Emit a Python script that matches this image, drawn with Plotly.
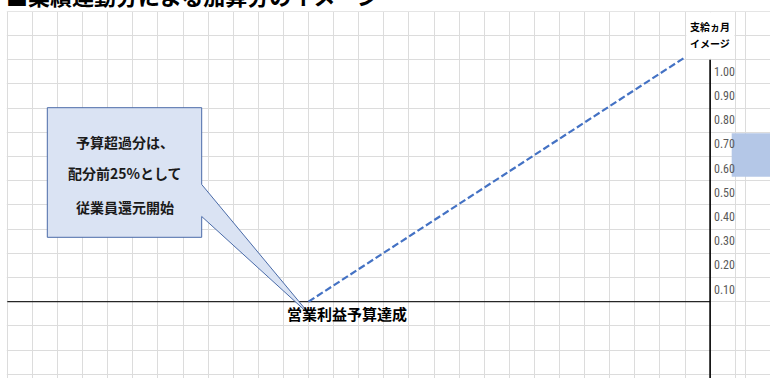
import plotly.graph_objects as go

# ---------------- data ----------------
title_text = "■業績連動分による加算分のイメージ"
axis_title_lines = ["支給ヵ月", "イメージ"]
month_values = [0.10, 0.20, 0.30, 0.40, 0.50, 0.60, 0.70, 0.80, 0.90, 1.00]
month_labels = ["0.10", "0.20", "0.30", "0.40", "0.50", "0.60", "0.70", "0.80", "0.90", "1.00"]
line_cols = [12, 27]          # column position: budget achieved -> end
line_months = [0.0, 1.01]     # payout months
callout_lines = ["予算超過分は、", "配分前25%として", "従業員還元開始"]
baseline_label = "営業利益予算達成"

# ---------------- geometry (sheet grid) ----------------
W, H = 770, 378
X0, DX = 7.3, 25.1      # first column line, column width (px)
Y0, DY = 301.7, 242.0   # zero line pixel, px per 1.0 month


def cx(p):
    return (p - X0) / DX


def my(p):
    return (Y0 - p) / DY


CJK = "Noto Sans CJK JP, Noto Sans, sans-serif"
NARROW = "Liberation Sans Narrow, Arial Narrow, Roboto Condensed, Roboto, sans-serif"

fig = go.Figure()

fig.add_trace(go.Scatter(
    x=line_cols, y=line_months, mode="lines",
    line=dict(color="#4472C4", width=2.2, dash="7px,3px"),
    hoverinfo="skip", showlegend=False,
))

xr = [cx(0), cx(W)]
yr = [my(H), my(0)]

shapes = []
# hide grid above first row and left of first column
shapes.append(dict(type="rect", xref="x", yref="y", x0=xr[0] - 1, x1=xr[1] + 1,
                   y0=my(11.2), y1=yr[1] + 1, fillcolor="white", line=dict(width=0), layer="between"))
shapes.append(dict(type="rect", xref="x", yref="y", x0=xr[0] - 1, x1=cx(6.8),
                   y0=yr[0] - 1, y1=yr[1] + 1, fillcolor="white", line=dict(width=0), layer="between"))
# merged header cell
shapes.append(dict(type="rect", xref="x", yref="y", x0=cx(686.3), x1=cx(734.5),
                   y0=my(58.8), y1=my(12.3), fillcolor="white", line=dict(width=0), layer="between"))
# blue highlighted cell at right
shapes.append(dict(type="rect", xref="x", yref="y", x0=cx(731.7), x1=cx(772),
                   y0=my(176.7), y1=my(133.3), fillcolor="#B4C7E7", line=dict(width=0), layer="between"))
# zero line
shapes.append(dict(type="line", xref="x", yref="y", x0=0, x1=28, y0=0, y1=0,
                   line=dict(color="#262626", width=1.3), layer="between"))
# vertical axis line
shapes.append(dict(type="line", xref="x", yref="y", x0=28, x1=28, y0=1.0, y1=yr[0] - 0.05,
                   line=dict(color="#000000", width=1.6), layer="between"))

# callout with wedge
L, R, T, B = 47.3, 201.7, 107.7, 237.3
wa, wb = 184.5, 216.5
tip = (311.0, 316.0)
pts = [(L, T), (R, T), (R, wa), tip, (R, wb), (R, B), (L, B)]
path = "M " + " L ".join(f"{cx(px):.4f},{my(py):.4f}" for px, py in pts) + " Z"
shapes.append(dict(type="path", xref="x", yref="y", path=path,
                   fillcolor="#DAE3F3", line=dict(color="#4A6BA8", width=1), layer="above"))

annotations = []
# title (cut off at top)
annotations.append(dict(text=f"<b>{title_text}</b>", xref="paper", yref="paper",
                        x=4 / W, y=1 + 5 / H, xanchor="left", yanchor="middle", showarrow=False,
                        font=dict(family=CJK, size=22, color="#000000")))
# axis header
for txt, py in zip(axis_title_lines, [26.0, 43.3]):
    annotations.append(dict(text=f"<b>{txt}</b>", xref="x", yref="y", x=cx(710), y=my(py),
                            xanchor="center", yanchor="middle", showarrow=False,
                            font=dict(family=CJK, size=10, color="#000000")))
# month labels
for v, lab in zip(month_values, month_labels):
    annotations.append(dict(text=lab, xref="x", yref="y", x=cx(711.5), y=v - 0.05,
                            xanchor="left", yanchor="middle", showarrow=False,
                            font=dict(family=NARROW, size=12, color="#595959")))
# callout text
for txt, py in zip(callout_lines, [141.7, 173.3, 206.7]):
    annotations.append(dict(text=f"<b>{txt}</b>", xref="x", yref="y", x=cx(124.5), y=my(py),
                            xanchor="center", yanchor="middle", showarrow=False,
                            font=dict(family=CJK, size=14, color="#1a1a1a")))
# baseline label
annotations.append(dict(text=f"<b>{baseline_label}</b>", xref="x", yref="y", x=cx(347.3), y=my(313.3),
                        xanchor="center", yanchor="middle", showarrow=False,
                        font=dict(family=CJK, size=15, color="#000000")))

fig.update_layout(
    width=W, height=H,
    margin=dict(l=0, r=0, t=0, b=0, pad=0),
    paper_bgcolor="white", plot_bgcolor="white",
    showlegend=False,
    xaxis=dict(range=xr, tickmode="array", tickvals=list(range(0, 30)) + [cx(745)],
               showgrid=True, gridcolor="#DCDCDC", gridwidth=1, showticklabels=False,
               zeroline=False, ticks="", showline=False, fixedrange=True),
    yaxis=dict(range=yr, tick0=0, dtick=0.1,
               showgrid=True, gridcolor="#DCDCDC", gridwidth=1, showticklabels=False,
               zeroline=False, ticks="", showline=False, fixedrange=True),
    shapes=shapes,
    annotations=annotations,
)

fig.write_html("out.html")
